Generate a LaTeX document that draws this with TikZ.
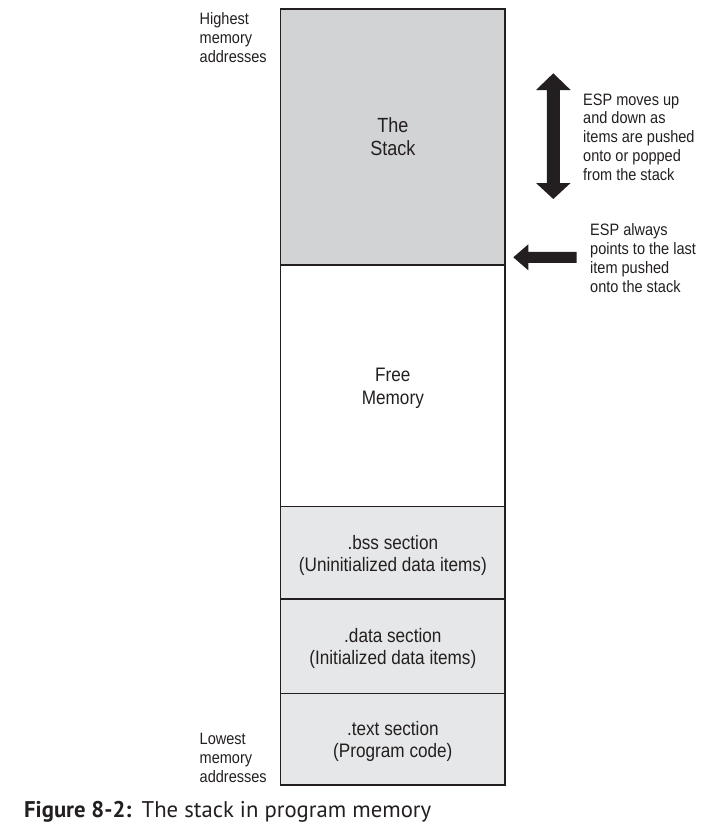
\documentclass[tikz,border=0pt]{standalone}
\usepackage{fontspec}
\setmainfont[FakeStretch=0.88]{Liberation Sans}
\newfontfamily\capfont{PT Sans}
\definecolor{ink}{HTML}{231F20}
\definecolor{stackgray}{HTML}{D1D3D4}
\definecolor{secgray}{HTML}{E6E7E8}
\begin{document}
\begin{tikzpicture}[x=1pt,y=-1pt,
  membox/.style={draw=ink, line width=1.3pt, inner sep=0pt, outer sep=0pt,
    minimum width=224.3pt, anchor=north west},
  boxtext/.style={align=center, text=ink, inner sep=0pt,
    font=\fontsize{19.5}{22.5}\selectfont},
  sidelabel/.style={align=left, inner sep=0pt, anchor=west, text=ink,
    font=\fontsize{16.5}{19}\selectfont},
  blockarrow/.style={fill=ink, draw=none}]
\useasboundingbox (0,0) rectangle (713,836);
\fill[white] (0,0) rectangle (713,836);

\node[membox, fill=stackgray, minimum height=256pt] (stack) at (280.7,9) {};
\node[membox, fill=white, minimum height=241.7pt, anchor=north] (free) at (stack.south) {};
\node[membox, fill=secgray, minimum height=92.3pt, anchor=north] (bss) at (free.south) {};
\node[membox, fill=secgray, minimum height=94.3pt, anchor=north] (data) at (bss.south) {};
\node[membox, fill=secgray, minimum height=91.7pt, anchor=north] (text) at (data.south) {};

\node[boxtext, font=\fontsize{20.5}{23}\selectfont] (stacklbl) at (stack.center) {The\\Stack};
\node[boxtext, yshift=-2.5pt] (freelbl) at (free.center) {Free\\Memory};
\node[boxtext, yshift=-2.5pt] (bsslbl) at (bss.center) {.bss section\\(Uninitialized data items)};
\node[boxtext, yshift=-2.5pt] (datalbl) at (data.center) {.data section\\(Initialized data items)};
\node[boxtext, yshift=-2.5pt] (textlbl) at (text.center) {.text section\\(Program code)};

\node[sidelabel] (high) at (199.5,38) {Highest\\memory\\addresses};
\node[sidelabel] (low) at (199.5,757.5) {Lowest\\memory\\addresses};

\node[sidelabel, font=\fontsize{16.5}{18.8}\selectfont] (moves) at (583,137) {ESP moves up\\and down as\\items are pushed\\onto or popped\\from the stack};
\node[sidelabel] (always) at (590,258) {ESP always\\points to the last\\item pushed\\onto the stack};

% vertical double block arrow
\fill[blockarrow] (553.3,73.3) -- (570.6,90) -- (559.8,90) -- (559.8,183) -- (570.6,183)
  -- (553.3,199) -- (536,183) -- (546.8,183) -- (546.8,90) -- (536,90) -- cycle;
% left block arrow
\fill[blockarrow] (513.3,257.3) -- (528.3,244.3) -- (528.3,251.8) -- (576.7,251.8)
  -- (576.7,262.8) -- (528.3,262.8) -- (528.3,270.3) -- cycle;

\node[anchor=west, inner sep=0pt, text=ink, font=\capfont\fontsize{22.7}{26}\selectfont] (caption) at (24,812)
  {\textbf{Figure 8-2:}\hspace{0.45em}The stack in program memory};
\end{tikzpicture}
\end{document}
